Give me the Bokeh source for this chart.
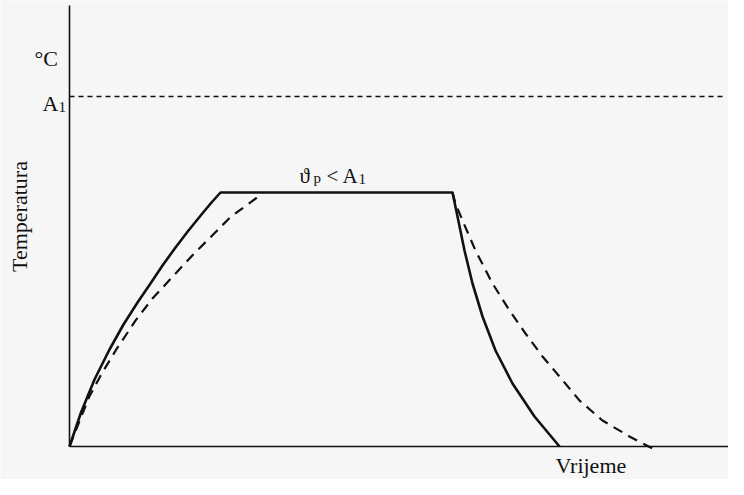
from bokeh.plotting import figure
from bokeh.models import Range1d
from bokeh.core.properties import value
from bokeh.embed import file_html
from bokeh.resources import INLINE
import math

# ---- data (time units, temperature units) ----
solid_t = [0, 1.15, 2.5, 4.0, 5.4, 6.8, 8.1, 9.3, 10.6, 11.9, 13.2, 14.2, 15.1,
           38.3, 38.8, 39.5, 40.3, 41.3, 42.6, 44.3, 46.5, 49.0]
solid_T = [0, 3.4, 6.7, 9.7, 12.2, 14.4, 16.3, 18.1, 19.9, 21.6, 23.2, 24.4, 25.4,
           25.4, 23.0, 19.6, 16.3, 13.0, 9.6, 6.3, 3.0, 0]

dash_heat_t = [0, 1.97, 3.13, 4.63, 6.63, 8.3, 10.3, 12.3, 14.47, 16.13, 18.63, 19.3]
dash_heat_T = [0, 4.97, 7.13, 9.63, 12.63, 14.8, 16.97, 19.13, 21.3, 22.97, 24.8, 25.4]

dash_cool_t = [38.3, 38.6, 39.3, 40.6, 42.3, 44.0, 45.6, 47.3, 49.0, 51.0, 53.3, 56.0, 58.3]
dash_cool_T = [25.4, 24.3, 22.6, 19.6, 16.3, 13.6, 11.3, 9.0, 7.0, 4.6, 2.6, 1.0, -0.2]

A1_level = 35.0
A1_line_t = [0, 65.5]
x_axis_t = [0, 66.5]
y_axis_T = [0, 44.1]

FONT = value("Liberation Serif")
INK = "#111111"
BG = "#f6f6f6"

p = figure(width=728, height=479, output_backend="svg", toolbar_location=None,
           x_range=Range1d(-6.9, 65.9), y_range=Range1d(-3.3, 44.6),
           x_axis_type=None, y_axis_type=None,
           min_border_left=0, min_border_right=0, min_border_top=0, min_border_bottom=0,
           background_fill_color=BG, border_fill_color=BG, outline_line_color=None)
p.xgrid.visible = False
p.ygrid.visible = False

# axes
p.line(x_axis_t, [0, 0], line_color=INK, line_width=1.6)
p.line([0, 0], y_axis_T, line_color=INK, line_width=1.6)

# A1 level
p.line(A1_line_t, [A1_level, A1_level], line_color=INK, line_width=1.4, line_dash="5 4")

# curves
p.line(solid_t, solid_T, line_color=INK, line_width=2.6, line_join="round")
p.line(dash_heat_t, dash_heat_T, line_color=INK, line_width=2.2, line_dash="10 7")
p.line(dash_cool_t, dash_cool_T, line_color=INK, line_width=2.2, line_dash="10 7")

# texts
def txt(x, y, s, size, align="left", baseline="alphabetic", angle=0.0):
    p.text(x=[x], y=[y], text=[s], text_font=FONT, text_font_size=f"{size}px",
           text_color=INK, text_align=align, text_baseline=baseline, angle=angle)

txt(-5.0, 23.0, "Temperatura", 22, align="center", baseline="middle", angle=math.pi / 2)
txt(-3.5, 38.8, "°C", 22)
txt(-2.7, 34.3, "A", 22)
txt(-1.1, 34.0, "1", 15)
txt(23.0, 27.1, "ϑ", 21)
txt(24.4, 26.9, "p", 15)
txt(25.7, 27.1, "< A", 21)
txt(28.9, 26.8, "1", 15)
txt(48.6, -1.9, "Vrijeme", 22)

open("out.html", "w").write(file_html(p, INLINE))
